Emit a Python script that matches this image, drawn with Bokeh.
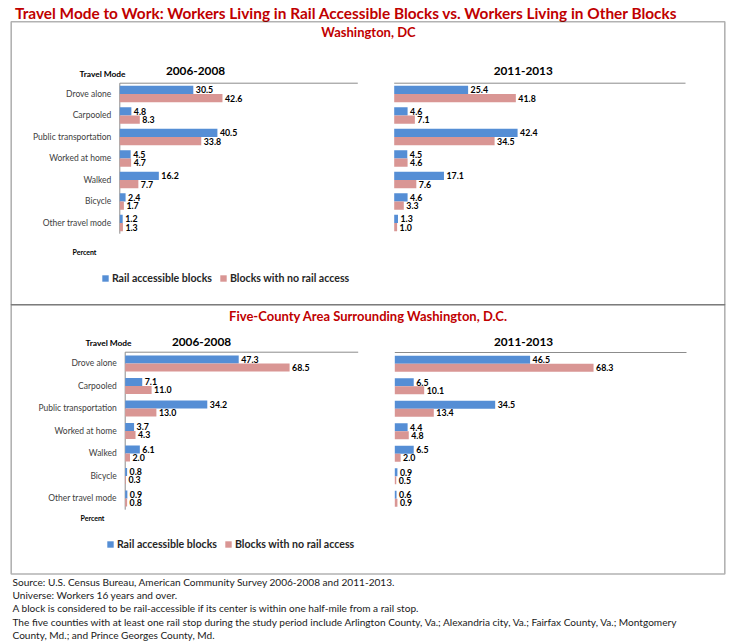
from bokeh.plotting import figure
from bokeh.models import Range1d, ColumnDataSource, BoxAnnotation, Legend, LegendItem
from bokeh.core.properties import value
from bokeh.transform import dodge
from bokeh.embed import file_html
from bokeh.resources import INLINE

# ---------------- data ----------------
modes = ["Drove alone", "Carpooled", "Public transportation", "Worked at home",
         "Walked", "Bicycle", "Other travel mode"]
series_names = ["Rail accessible blocks", "Blocks with no rail access"]
period_labels = ["2006-2008", "2011-2013"]
area_titles = ["Washington, DC", "Five-County Area Surrounding Washington, D.C."]

dc_0608_rail = [30.5, 4.8, 40.5, 4.5, 16.2, 2.4, 1.2]
dc_0608_norail = [42.6, 8.3, 33.8, 4.7, 7.7, 1.7, 1.3]
dc_1113_rail = [25.4, 4.6, 42.4, 4.5, 17.1, 4.6, 1.3]
dc_1113_norail = [41.8, 7.1, 34.5, 4.6, 7.6, 3.3, 1.0]
fc_0608_rail = [47.3, 7.1, 34.2, 3.7, 6.1, 0.8, 0.9]
fc_0608_norail = [68.5, 11.0, 13.0, 4.3, 2.0, 0.3, 0.8]
fc_1113_rail = [46.5, 6.5, 34.5, 4.4, 6.5, 0.9, 0.6]
fc_1113_norail = [68.3, 10.1, 13.4, 4.8, 2.0, 0.5, 0.9]

title_text = ("Travel Mode to Work: Workers Living in Rail Accessible Blocks "
              "vs. Workers Living in Other Blocks")
notes = [
    "Source: U.S. Census Bureau, American Community Survey 2006-2008 and 2011-2013.",
    "Universe: Workers 16 years and over.",
    "A block is considered to be rail-accessible if its center is within one half-mile from a rail stop.",
    "The five counties with at least one rail stop during the study period include Arlington County, Va.; Alexandria city, Va.; Fairfax County, Va.; Montgomery",
    "County, Md.; and Prince Georges County, Md.",
]

# ---------------- style ----------------
FONT_NAME = "Lato"
FONT = value(FONT_NAME)
BLUE = "#558ED5"
PINK = "#D99694"
RED = "#C00000"
AXIS = "#8C8C8C"
W, H = 732, 641

p = figure(width=W, height=H, output_backend="svg", toolbar_location=None,
           x_range=Range1d(0, W), y_range=Range1d(H, 0),
           x_axis_type=None, y_axis_type=None, min_border=0,
           outline_line_color=None)
p.background_fill_color = "white"
p.border_fill_color = "white"

# section boxes
for top, bottom in [(21.3, 304.3), (304.3, 573.5)]:
    p.add_layout(BoxAnnotation(left=10.7, right=724.3, top=top, bottom=bottom,
                               fill_alpha=0, line_color="black", line_width=1.6))

# title texts
p.text(x=[14.5], y=[12], text=[title_text], text_font=FONT, text_font_style="bold",
       text_font_size="15.4px", text_color=RED, text_baseline="middle", text_align="left")
p.text(x=[368, 368], y=[31, 315], text=area_titles, text_font=FONT,
       text_font_style="bold", text_font_size="13px", text_color=RED,
       text_baseline="middle", text_align="center")

# panels: (rail, norail, zero_px, px_per_unit, axis_len_px, top_px, pitch_px, bar_px,
#          show_labels, period_index, period_title_x, period_title_y)
panels = [
    (dc_0608_rail, dc_0608_norail, 119.3, 2.41, 238.0, 82.7, 21.5, 8.3, True, 0, 195.0, 70.0),
    (dc_1113_rail, dc_1113_norail, 393.7, 2.91, 291.3, 82.7, 21.5, 8.3, False, 1, 522.7, 70.0),
    (fc_0608_rail, fc_0608_norail, 124.7, 2.40, 233.0, 351.7, 22.5, 8.0, True, 0, 201.0, 341.0),
    (fc_1113_rail, fc_1113_norail, 394.3, 2.91, 291.7, 352.0, 22.5, 8.0, False, 1, 523.0, 341.0),
]

legend_renderers = []
for k, (rail, norail, zero, ppu, alen, top, pitch, bpx, show_labels, pi, tx, ty) in enumerate(panels):
    xr_name, yr_name = f"x{k}", f"y{k}"
    p.extra_x_ranges[xr_name] = Range1d(start=-zero / ppu, end=(W - zero) / ppu)
    a = (H - top - 0.5 * pitch) / pitch
    p.extra_y_ranges[yr_name] = Range1d(start=a, end=a - H / pitch)
    bh = bpx / pitch
    src = ColumnDataSource(dict(
        y=list(range(len(modes))), mode=modes, rail=rail, norail=norail,
        rail_lbl=[f"{v:.1f}" for v in rail], norail_lbl=[f"{v:.1f}" for v in norail]))
    kw = dict(x_range_name=xr_name, y_range_name=yr_name)
    # axis lines
    p.segment(x0=[0], y0=[-0.5], x1=[alen / ppu], y1=[-0.5], line_color=AXIS, line_width=1, **kw)
    if show_labels:
        p.segment(x0=[0], y0=[-0.5], x1=[0], y1=[len(modes) - 0.5], line_color=AXIS,
                  line_width=1, **kw)
    rb = p.hbar(y=dodge("y", -bh / 2), left=0, right="rail", height=bh, source=src,
                fill_color=BLUE, line_color=None, **kw)
    rp = p.hbar(y=dodge("y", bh / 2), left=0, right="norail", height=bh, source=src,
                fill_color=PINK, line_color=None, **kw)
    legend_renderers.append((rb, rp))
    for col, lbl, d in [("rail", "rail_lbl", -bh / 2), ("norail", "norail_lbl", bh / 2)]:
        p.text(x=col, y=dodge("y", d), text=lbl, source=src, x_offset=2.5,
               text_font=FONT, text_font_style="bold", text_font_size="8.8px",
               text_color="black", text_baseline="middle", text_align="left", **kw)
    if show_labels:
        p.text(x=0, y="y", text="mode", source=src, x_offset=-8.5, text_font=FONT,
               text_font_size="8.5px", text_color="#404040", text_baseline="middle",
               text_align="right", **kw)
    p.text(x=[tx], y=[ty], text=[period_labels[pi]], text_font=FONT, text_font_style="bold",
           text_font_size="11.8px", text_color="black", text_baseline="middle",
           text_align="center")

# "Travel Mode" and "Percent" labels
p.text(x=[79, 85], y=[73, 342.7], text=["Travel Mode", "Travel Mode"], text_font=FONT,
       text_font_style="bold", text_font_size="8.4px", text_color="black",
       text_baseline="middle", text_align="left")
p.text(x=[72, 80], y=[251, 517.3], text=["Percent", "Percent"], text_font=FONT,
       text_font_style="bold", text_font_size="7px", text_color="black",
       text_baseline="middle", text_align="left")

# legends
for (rb, rp), loc in [(legend_renderers[0], (100.9, 357.5)), (legend_renderers[2], (105.9, 91.5))]:
    leg = Legend(items=[LegendItem(label=series_names[0], renderers=[rb]),
                        LegendItem(label=series_names[1], renderers=[rp])],
                 location=loc, orientation="horizontal", border_line_color=None,
                 background_fill_alpha=0, padding=0, margin=0, spacing=7,
                 label_standoff=3, glyph_width=8, glyph_height=8, label_height=8,
                 label_width=100, label_text_font=FONT_NAME, label_text_font_style="bold",
                 label_text_font_size="10.6px", label_text_color="#262626")
    p.add_layout(leg)

# notes
p.text(x=[12] * len(notes), y=[581.0 + 13.4 * i for i in range(len(notes))], text=notes,
       text_font=FONT, text_font_size="10.1px", text_color="#1a1a1a",
       text_baseline="middle", text_align="left")

open("out.html", "w").write(file_html(p, INLINE))
